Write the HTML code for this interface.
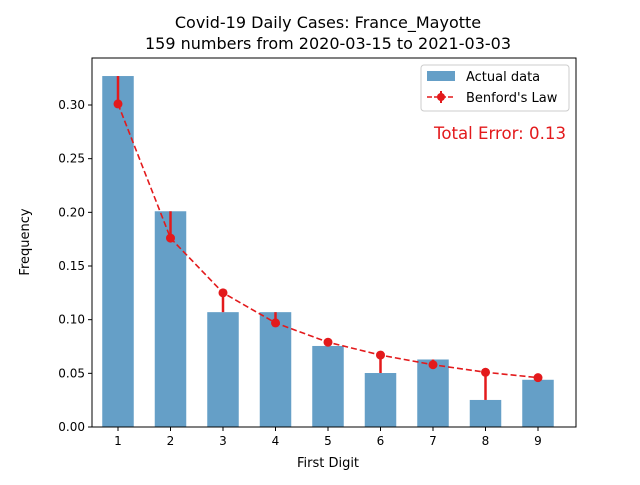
<!DOCTYPE html>
<html><head><meta charset="utf-8"><style>
body{margin:0;background:#fff;font-family:"Liberation Sans","DejaVu Sans",sans-serif}
text{font-family:"DejaVu Sans","Liberation Sans",sans-serif}
</style></head><body>
<svg id="chart" width="640" height="480" xmlns="http://www.w3.org/2000/svg">
<rect width="640" height="480" fill="#fff"/>
<text x="328" y="28" text-anchor="middle" font-size="16">Covid-19 Daily Cases: France_Mayotte</text>
<text x="328" y="49" text-anchor="middle" font-size="16">159 numbers from 2020-03-15 to 2021-03-03</text>
<g id="plot"></g>
<rect x="92" y="58" width="484" height="369" fill="none" stroke="#000" stroke-width="1"/>
<text x="328" y="467" text-anchor="middle" font-size="13">First Digit</text>
<text transform="translate(29,242) rotate(-90)" text-anchor="middle" font-size="13">Frequency</text>
<g>
<rect x="421" y="65" width="148" height="46" rx="3" fill="#fff" stroke="#ccc"/>
<rect x="427" y="71" width="28" height="10" fill="#659fc7"/>
<text x="466" y="81" font-size="13">Actual data</text>
<line x1="427" y1="97" x2="455" y2="97" stroke="#e31a1c" stroke-width="1.5" stroke-dasharray="5,2"/>
<line x1="441" y1="91" x2="441" y2="103" stroke="#e31a1c" stroke-width="2"/>
<circle cx="441" cy="97" r="4" fill="#e31a1c"/>
<text x="466" y="102" font-size="13">Benford's Law</text>
</g>
<text x="566" y="139" text-anchor="end" font-size="16.6" fill="#e31a1c">Total Error: 0.13</text>
</svg>
<script>
const digits=[1,2,3,4,5,6,7,8,9];
const actual=[0.327,0.201,0.107,0.107,0.0755,0.0503,0.0629,0.0252,0.044];
const benford=[0.301,0.176,0.125,0.097,0.079,0.067,0.058,0.051,0.046];
const yTicks=[0,0.05,0.10,0.15,0.20,0.25,0.30];
const NS="http://www.w3.org/2000/svg";
const x=d=>118+(d-1)*52.5;
const y=v=>427-v*1073.3;
const g=document.getElementById('plot');
function mk(t,a){const e=document.createElementNS(NS,t);for(const k in a)e.setAttribute(k,a[k]);g.appendChild(e);return e;}
digits.forEach((d,i)=>{
 const b=mk('rect',{x:x(d)-15.75,y:y(actual[i]),width:31.5,height:y(0)-y(actual[i]),fill:'#659fc7'});
 
 
 const t=mk('line',{x1:x(d),x2:x(d),y1:y(0),y2:y(0)+4,stroke:'#000'});
 
 
 const l=mk('text',{x:x(d),y:y(0)+18,'text-anchor':'middle','font-size':12});
 l.textContent=d;
 
 
});
yTicks.forEach(v=>{
 const t=mk('line',{x1:88,x2:92,y1:y(v),y2:y(v),stroke:'#000'});
 
 
 const l=mk('text',{x:85,y:y(v)+4,'text-anchor':'end','font-size':12});
 l.textContent=v.toFixed(2);
 
 
});
const line=mk('polyline',{points:digits.map((d,i)=>x(d)+','+y(benford[i])).join(' '),fill:'none',stroke:'#e31a1c','stroke-width':1.6,'stroke-dasharray':'6,3'});


digits.forEach((d,i)=>{
 const e=mk('line',{x1:x(d),x2:x(d),y1:y(benford[i]),y2:y(actual[i]),stroke:'#e31a1c','stroke-width':2.5});
 
 
 const c=mk('circle',{cx:x(d),cy:y(benford[i]),r:4.5,fill:'#e31a1c'});
 
 
});
</script>
</body></html>
